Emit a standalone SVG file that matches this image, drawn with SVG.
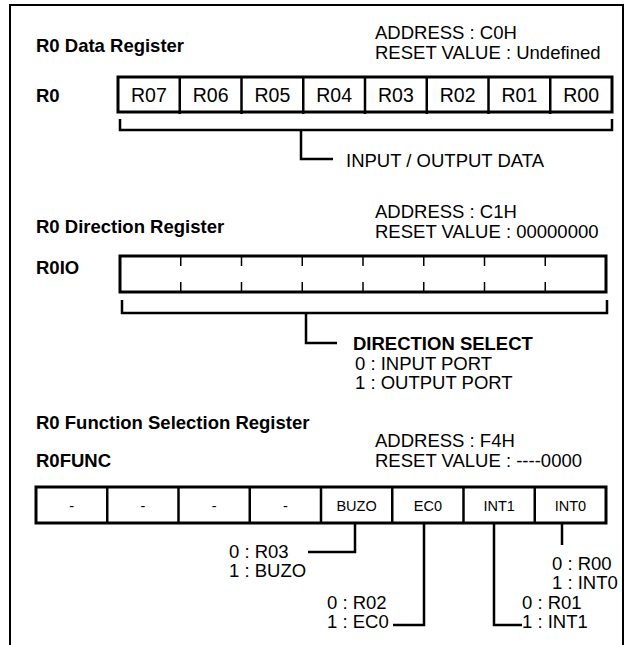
<svg xmlns="http://www.w3.org/2000/svg" width="635" height="645" viewBox="0 0 635 645">
<style>
.t{font-family:"Liberation Sans",Arial,sans-serif;font-size:18.5px;fill:#000}
.b{font-family:"Liberation Sans",Arial,sans-serif;font-size:18.5px;font-weight:bold;fill:#000}
.c{font-family:"Liberation Sans",Arial,sans-serif;font-size:19.5px;fill:#000;text-anchor:middle}
.s{font-family:"Liberation Sans",Arial,sans-serif;font-size:14.5px;fill:#000;text-anchor:middle}
.box{fill:none;stroke:#000;stroke-width:3}
.div{stroke:#000;stroke-width:2.5}
.ln{fill:none;stroke:#000;stroke-width:2.5}
.th{stroke:#000;stroke-width:1.5}
</style>
<rect width="635" height="645" fill="#fff"/>
<path d="M10,650 V5 H623 V650" fill="none" stroke="#000" stroke-width="2"/>

<g id="r0-data-register">
<text class="b" x="36" y="52">R0 Data Register</text>
<text class="t" x="375" y="39">ADDRESS : C0H</text>
<text class="t" x="375" y="59">RESET VALUE : Undefined</text>
<text class="b" x="36" y="102">R0</text>
<rect class="box" x="118" y="77" width="494" height="35"/>
<g class="div">
<line x1="179.75" y1="77" x2="179.75" y2="114"/>
<line x1="241.5" y1="77" x2="241.5" y2="114"/>
<line x1="303.25" y1="77" x2="303.25" y2="114"/>
<line x1="365" y1="77" x2="365" y2="114"/>
<line x1="426.75" y1="77" x2="426.75" y2="114"/>
<line x1="488.5" y1="77" x2="488.5" y2="114"/>
<line x1="550.25" y1="77" x2="550.25" y2="114"/>
</g>
<text class="c" x="148.9" y="101.5">R07</text>
<text class="c" x="210.6" y="101.5">R06</text>
<text class="c" x="272.4" y="101.5">R05</text>
<text class="c" x="334.1" y="101.5">R04</text>
<text class="c" x="395.9" y="101.5">R03</text>
<text class="c" x="457.6" y="101.5">R02</text>
<text class="c" x="519.4" y="101.5">R01</text>
<text class="c" x="581.1" y="101.5">R00</text>
</g>

<g id="r0-direction-register">
<text class="t" x="375" y="218">ADDRESS : C1H</text>
<text class="t" x="375" y="238">RESET VALUE : 00000000</text>
<text class="b" x="36" y="233">R0 Direction Register</text>
<text class="b" x="36" y="274">R0IO</text>
<rect class="box" x="120" y="256" width="486" height="36"/>
<g class="th">
<line x1="180.75" y1="256" x2="180.75" y2="266"/><line x1="180.75" y1="282" x2="180.75" y2="292"/>
<line x1="241.5" y1="256" x2="241.5" y2="266"/><line x1="241.5" y1="282" x2="241.5" y2="292"/>
<line x1="302.25" y1="256" x2="302.25" y2="266"/><line x1="302.25" y1="282" x2="302.25" y2="292"/>
<line x1="363" y1="256" x2="363" y2="266"/><line x1="363" y1="282" x2="363" y2="292"/>
<line x1="423.75" y1="256" x2="423.75" y2="266"/><line x1="423.75" y1="282" x2="423.75" y2="292"/>
<line x1="484.5" y1="256" x2="484.5" y2="266"/><line x1="484.5" y1="282" x2="484.5" y2="292"/>
<line x1="545.25" y1="256" x2="545.25" y2="266"/><line x1="545.25" y1="282" x2="545.25" y2="292"/>
</g>
</g>

<g id="r0-function-register">
<text class="b" x="36" y="429">R0 Function Selection Register</text>
<text class="t" x="375" y="447">ADDRESS : F4H</text>
<text class="b" x="36" y="467">R0FUNC</text>
<text class="t" x="375" y="467">RESET VALUE : ----0000</text>
<rect class="box" x="36" y="487" width="570" height="36"/>
<g class="div">
<line x1="107.25" y1="487" x2="107.25" y2="523"/>
<line x1="178.5" y1="487" x2="178.5" y2="523"/>
<line x1="249.75" y1="487" x2="249.75" y2="523"/>
<line x1="321" y1="487" x2="321" y2="523"/>
<line x1="392.25" y1="487" x2="392.25" y2="523"/>
<line x1="463.5" y1="487" x2="463.5" y2="523"/>
<line x1="534.75" y1="487" x2="534.75" y2="523"/>
</g>
<text class="s" x="71.6" y="511">-</text>
<text class="s" x="142.9" y="511">-</text>
<text class="s" x="214.1" y="511">-</text>
<text class="s" x="285.4" y="511">-</text>
<text class="s" x="356.6" y="511">BUZO</text>
<text class="s" x="427.9" y="511">EC0</text>
<text class="s" x="499.1" y="511">INT1</text>
<text class="s" x="570.4" y="511">INT0</text>
</g>

<g id="connectors">
<path class="ln" d="M120,119 V130 H612 V119"/>
<path class="ln" d="M301,130 V159 H333"/>
<path class="ln" d="M122,300 V313 H607 V300"/>
<path class="ln" d="M306,313 V343 H337"/>
<path class="ln" d="M355,523 V552 H308"/>
<path class="ln" d="M424,523 V625 H393"/>
<path class="ln" d="M494,523 V625 H522"/>
<path class="ln" d="M562,523 V545"/>
</g>

<g id="labels">
<text class="t" x="346" y="167">INPUT / OUTPUT DATA</text>
<text class="b" x="353" y="350">DIRECTION SELECT</text>
<text class="t" x="355" y="369.5">0 : INPUT PORT</text>
<text class="t" x="355" y="389">1 : OUTPUT PORT</text>
<text class="t" x="229" y="557.5">0 : R03</text>
<text class="t" x="229" y="577">1 : BUZO</text>
<text class="t" x="327" y="608.5">0 : R02</text>
<text class="t" x="327" y="628">1 : EC0</text>
<text class="t" x="522" y="608.5">0 : R01</text>
<text class="t" x="522" y="628">1 : INT1</text>
<text class="t" x="552" y="569.5">0 : R00</text>
<text class="t" x="552" y="589">1 : INT0</text>
</g>
</svg>
